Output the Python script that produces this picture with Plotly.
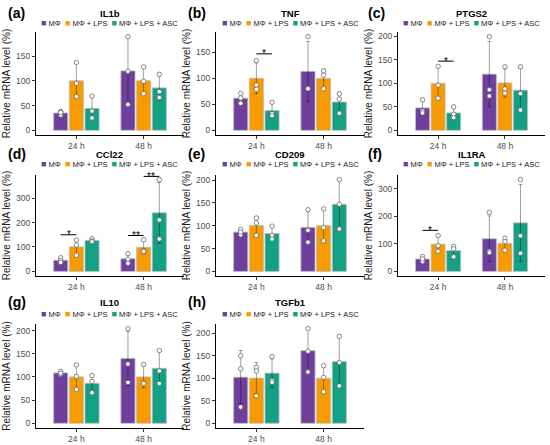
import numpy as np
import plotly.graph_objects as go

groups = ["MΦ", "MΦ + LPS", "MΦ + LPS + ASC"]
times = ["24 h", "48 h"]
genes = ["IL1b", "TNF", "PTGS2", "CCl22", "CD209", "IL1RA", "IL10", "TGFb1"]
tags = ["(a)", "(b)", "(c)", "(d)", "(e)", "(f)", "(g)", "(h)"]
colors = ["#6E3F9C", "#F89B00", "#14A085"]

# replicate values (relative mRNA level, %) : [group][replicate]
il1b_24h = [[38, 31, 36], [137, 95, 68], [69, 39, 25]]
il1b_48h = [[189, 119, 52], [128, 99, 74], [113, 78, 66]]
tnf_24h = [[71, 62, 52], [134, 87, 79], [54, 32, 28]]
tnf_48h = [[180, 80, 80], [114, 106, 80], [70, 60, 33]]
ptgs2_24h = [[65, 41, 37], [136, 96, 68], [50, 34, 27]]
ptgs2_48h = [[199, 86, 73], [135, 88, 79], [135, 78, 43]]
ccl22_24h = [[56, 44, 37], [128, 108, 66], [134, 125, 122]]
ccl22_48h = [[73, 50, 33], [130, 85, 82], [376, 211, 133]]
cd209_24h = [[92, 80, 86], [117, 106, 79], [99, 79, 71]]
cd209_48h = [[135, 90, 64], [137, 96, 67], [201, 147, 93]]
il1ra_24h = [[54, 36, 45], [130, 93, 73], [91, 53, 82]]
il1ra_48h = [[214, 73, 68], [120, 108, 77], [333, 129, 66]]
il10_24h = [[112, 106, 108], [126, 101, 73], [103, 90, 66]]
il10_48h = [[204, 128, 88], [127, 87, 86], [157, 113, 86]]
tgfb1_24h = [[150, 121, 36], [124, 116, 61], [148, 95, 91]]
tgfb1_48h = [[210, 160, 114], [128, 102, 70], [193, 135, 83]]

data_24h = [il1b_24h, tnf_24h, ptgs2_24h, ccl22_24h, cd209_24h, il1ra_24h, il10_24h, tgfb1_24h]
data_48h = [il1b_48h, tnf_48h, ptgs2_48h, ccl22_48h, cd209_48h, il1ra_48h, il10_48h, tgfb1_48h]

y_dticks = [50, 50, 50, 100, 50, 100, 50, 50]

# significance: gene index, time index, group a, group b, bracket height, label
signif = [
    (1, 0, 1, 2, 147, "*"),
    (2, 0, 1, 2, 147, "*"),
    (3, 0, 0, 1, 150, "*"),
    (3, 1, 0, 1, 147, "**"),
    (3, 1, 1, 2, 389, "**"),
    (5, 0, 0, 1, 149, "*"),
]

# ---------------- layout geometry (pixels) ----------------
W, H = 550, 445
cols = [(36, 184), (216, 364), (398, 545)]
rows = [(32, 135), (175, 276), (324, 428)]
title_y = [13, 154, 302]
legend_y = [23, 164, 314]
tag_x = [6, 186, 366]
offsets = [-0.233, 0.0, 0.233]
bar_w = 0.21
FONT = "Liberation Sans, Arial, sans-serif"

fig = go.Figure()
layout = dict(
    width=W, height=H, margin=dict(l=0, r=0, t=0, b=0),
    paper_bgcolor="white", plot_bgcolor="white",
    barmode="overlay", showlegend=False,
    font=dict(family=FONT, color="#000000"),
)
annotations = []
shapes = []

legend_html = "\u00a0\u00a0".join(
    f'<span style="color:{c};font-size:9px">■</span>\u00a0{g}' for c, g in zip(colors, groups)
)

for i, gene in enumerate(genes):
    r, c = divmod(i, 3)
    ax = "" if i == 0 else str(i + 1)
    xr, yr = "x" + ax, "y" + ax
    per_time = [data_24h[i], data_48h[i]]
    ymax = 0
    for g in range(3):
        reps = [np.array(per_time[t][g], dtype=float) for t in range(2)]
        means = [v.mean() for v in reps]
        sds = [v.std(ddof=1) for v in reps]
        xs = [t + 1 + offsets[g] for t in range(2)]
        ymax = max(ymax, max(v.max() for v in reps), max(m + s for m, s in zip(means, sds)))
        fig.add_trace(go.Bar(
            x=xs, y=means, width=bar_w, name=groups[g],
            marker=dict(color=colors[g], line=dict(color="#bdbdbd", width=0.8)),
            error_y=dict(type="data", array=sds, visible=True,
                         color="rgba(0,0,0,0.38)", thickness=1, width=2),
            xaxis=xr, yaxis=yr,
        ))
        px, py = [], []
        for t in range(2):
            px += [xs[t]] * len(reps[t])
            py += list(reps[t])
        fig.add_trace(go.Scatter(
            x=px, y=py, mode="markers", name=groups[g],
            marker=dict(size=4.5, color="white", line=dict(color="#6b6b6b", width=0.8)),
            xaxis=xr, yaxis=yr, cliponaxis=False,
        ))

    x0, x1 = cols[c]
    top, bot = rows[r]
    layout["xaxis" + ax] = dict(
        domain=[x0 / W, x1 / W], range=[0.4, 2.6], anchor=yr,
        tickvals=[1, 2], ticktext=times, showline=True, linecolor="black", linewidth=1,
        ticks="outside", ticklen=3, tickcolor="#333333",
        tickfont=dict(size=8.5, color="#4d4d4d", family=FONT),
        showgrid=False, zeroline=False,
    )
    layout["yaxis" + ax] = dict(
        domain=[1 - bot / H, 1 - top / H], range=[-0.05 * ymax, 1.05 * ymax], anchor=xr,
        tick0=0, dtick=y_dticks[i], showline=True, linecolor="black", linewidth=1,
        ticks="outside", ticklen=3, tickcolor="#333333",
        tickfont=dict(size=8.5, color="#4d4d4d", family=FONT),
        showgrid=False, zeroline=False,
        title=dict(text="Relative mRNA level (%)", font=dict(size=10, color="#1a1a1a", family=FONT), standoff=3),
    )
    annotations.append(dict(
        text=f"<b>{gene}</b>", xref=xr + " domain", x=0.5, yref="paper", y=1 - title_y[r] / H,
        xanchor="center", yanchor="middle", showarrow=False, font=dict(size=9.5, family=FONT),
    ))
    annotations.append(dict(
        text=legend_html, xref=xr + " domain", x=0.5, yref="paper", y=1 - legend_y[r] / H,
        xanchor="center", yanchor="middle", showarrow=False, font=dict(size=7.5, family=FONT, color="#1a1a1a"),
    ))
    annotations.append(dict(
        text=f"<b>{tags[i]}</b>", xref="paper", x=tag_x[c] / W, yref="paper", y=1 - title_y[r] / H,
        xanchor="left", yanchor="middle", showarrow=False, font=dict(size=14, family=FONT),
    ))

for gi, t, ga, gb, yv, lab in signif:
    ax = "" if gi == 0 else str(gi + 1)
    xa = t + 1 + offsets[ga]
    xb = t + 1 + offsets[gb]
    shapes.append(dict(type="line", xref="x" + ax, yref="y" + ax, x0=xa, x1=xb, y0=yv, y1=yv,
                       line=dict(color="black", width=1)))
    annotations.append(dict(text=lab, xref="x" + ax, yref="y" + ax, x=(xa + xb) / 2, y=yv,
                            xanchor="center", yanchor="middle", yshift=0, showarrow=False,
                            font=dict(size=10, family=FONT)))

layout["annotations"] = annotations
layout["shapes"] = shapes
fig.update_layout(**layout)
fig.write_html(
    "out.html",
    config={"displayModeBar": False},
    post_script="document.body.style.margin='0';document.body.style.overflow='hidden';",
)
